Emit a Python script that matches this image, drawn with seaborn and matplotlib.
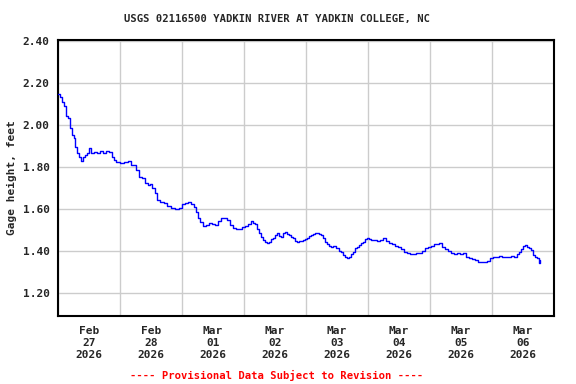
import pandas as pd
import numpy as np
import seaborn as sns
import matplotlib.pyplot as plt
import matplotlib.dates as mdates

# hours since 2026-02-27 00:00 and gage height (feet)
hours = [0.0, 0.8, 1.5, 2.3, 3.1, 3.9, 4.6, 5.4, 6.2, 6.7, 7.4, 8.1, 8.9, 9.7, 10.5, 11.2,
         12.0, 12.8, 13.9, 15.1, 16.3, 17.4, 18.6, 19.7, 20.9, 21.7, 22.5, 24.0, 25.5, 27.1,
         28.3, 29.4, 30.2, 31.4, 32.5, 33.7, 34.8, 35.6, 36.4, 37.5, 38.3, 39.5, 41.0, 42.2,
         43.7, 45.3, 46.8, 48.0, 49.2, 50.3, 51.5, 52.6, 53.4, 54.2, 55.0, 56.1, 57.3, 58.5,
         59.6, 60.8, 61.9, 63.1, 64.3, 65.4, 66.6, 67.7, 68.9, 70.1, 71.2, 72.4, 73.5, 74.7,
         75.5, 76.3, 77.0, 77.8, 78.6, 79.4, 80.1, 80.9, 81.7, 82.5, 83.2, 84.0, 84.8, 85.5,
         86.3, 87.1, 87.9, 88.6, 89.4, 90.2, 91.0, 91.7, 92.5, 93.3, 94.1, 94.8, 95.6, 96.4,
         97.2, 97.9, 98.7, 99.5, 100.3, 101.0, 101.8, 102.6, 103.4, 104.1, 104.9, 105.7, 106.5,
         107.6, 108.8, 109.5, 110.3, 111.1, 111.9, 112.6, 113.4, 114.2, 115.0, 115.7, 116.5,
         117.3, 118.1, 118.8, 119.6, 120.4, 121.2, 122.3, 123.5, 124.6, 125.8, 127.0, 128.1,
         129.3, 130.5, 131.6, 132.8, 133.9, 135.1, 136.3, 137.4, 138.6, 139.7, 140.9, 142.1,
         143.2, 144.4, 145.5, 146.7, 147.5, 148.6, 149.8, 151.0, 152.1, 153.3, 154.5, 155.6,
         156.8, 157.9, 159.1, 160.3, 161.4, 162.6, 163.7, 164.9, 166.1, 167.2, 168.4, 169.5,
         170.7, 171.9, 173.0, 174.2, 175.4, 176.5, 177.7, 178.5, 179.2, 180.0, 180.8, 181.5,
         182.3, 183.1, 183.9, 184.6, 185.4, 186.2, 186.6]
gage = [2.146, 2.135, 2.108, 2.092, 2.044, 2.032, 1.984, 1.952, 1.937, 1.897, 1.865, 1.849,
        1.829, 1.849, 1.857, 1.865, 1.889, 1.868, 1.873, 1.866, 1.878, 1.868, 1.876, 1.870,
        1.849, 1.833, 1.822, 1.819, 1.822, 1.827, 1.810, 1.808, 1.786, 1.752, 1.748, 1.724,
        1.714, 1.718, 1.699, 1.675, 1.643, 1.632, 1.627, 1.614, 1.603, 1.599, 1.603, 1.624,
        1.630, 1.632, 1.624, 1.608, 1.587, 1.556, 1.540, 1.519, 1.524, 1.535, 1.529, 1.524,
        1.544, 1.556, 1.556, 1.548, 1.524, 1.508, 1.505, 1.506, 1.513, 1.519, 1.528, 1.544,
        1.535, 1.529, 1.503, 1.484, 1.465, 1.452, 1.444, 1.437, 1.444, 1.456, 1.460, 1.476,
        1.484, 1.471, 1.465, 1.484, 1.492, 1.479, 1.475, 1.468, 1.460, 1.449, 1.444, 1.449,
        1.446, 1.452, 1.456, 1.460, 1.471, 1.476, 1.481, 1.484, 1.487, 1.481, 1.476, 1.460,
        1.444, 1.433, 1.424, 1.421, 1.424, 1.413, 1.401, 1.397, 1.381, 1.373, 1.365, 1.370,
        1.386, 1.397, 1.413, 1.421, 1.429, 1.437, 1.444, 1.456, 1.460, 1.456, 1.452, 1.452,
        1.448, 1.452, 1.460, 1.449, 1.440, 1.433, 1.424, 1.418, 1.408, 1.397, 1.389, 1.386,
        1.384, 1.389, 1.392, 1.401, 1.413, 1.421, 1.424, 1.433, 1.433, 1.437, 1.418, 1.408,
        1.401, 1.389, 1.386, 1.389, 1.386, 1.389, 1.373, 1.365, 1.360, 1.357, 1.349, 1.349,
        1.349, 1.354, 1.365, 1.370, 1.373, 1.376, 1.370, 1.373, 1.370, 1.376, 1.373, 1.386,
        1.397, 1.408, 1.424, 1.429, 1.421, 1.413, 1.405, 1.381, 1.373, 1.365, 1.344, 1.357]
y_ticks = [1.20, 1.40, 1.60, 1.80, 2.00, 2.20, 2.40]

start = pd.Timestamp('2026-02-27')
df = pd.DataFrame({'time': start + pd.to_timedelta(hours, unit='h'), 'gage': gage})

sns.set_style('white')
plt.rcParams['font.family'] = ['DejaVu Sans Mono']
plt.rcParams['font.weight'] = 'bold'

fig = plt.figure(figsize=(5.76, 3.84), dpi=100)
ax = fig.add_axes([58 / 576, 1 - 316 / 384, 496 / 576, 276 / 384])

sns.lineplot(data=df, x='time', y='gage', ax=ax, color='#0000ff', lw=1,
             drawstyle='steps-post', zorder=3)

ax.set_xlim(start, start + pd.Timedelta(days=8))
ax.set_ylim(1.09, 2.405)
ax.set_yticks(y_ticks)
ax.set_yticklabels([f'{v:.2f}' for v in y_ticks], fontsize=8, fontweight='bold')

# day boundaries carry the grid, labels sit at noon
ax.xaxis.set_major_locator(mdates.DayLocator())
ax.xaxis.set_major_formatter(plt.NullFormatter())
ax.xaxis.set_minor_locator(mdates.HourLocator(byhour=[12]))
ax.xaxis.set_minor_formatter(mdates.DateFormatter('%b\n%d\n%Y'))
ax.tick_params(axis='x', which='both', length=0, pad=7)
ax.tick_params(axis='y', length=0, pad=6)
for lab in ax.get_xticklabels(minor=True):
    lab.set_fontsize(8)
    lab.set_fontweight('bold')
    lab.set_linespacing(1.25)

ax.grid(True, which='major', color='#cccccc', lw=1)
ax.set_axisbelow(True)
for s in ax.spines.values():
    s.set_color('black')
    s.set_linewidth(1.5)

ax.set_xlabel('')
ax.set_ylabel('Gage height, feet', fontsize=8, fontweight='bold', labelpad=4)

fig.text(277.5 / 576, 1 - 19 / 384,
         'USGS 02116500 YADKIN RIVER AT YADKIN COLLEGE, NC',
         ha='center', va='center', fontsize=7.6, fontweight='bold')
fig.text(277 / 576, 1 - 375 / 384, '---- Provisional Data Subject to Revision ----',
         ha='center', va='center', fontsize=7.6, fontweight='bold', color='red')

fig.savefig('out.png', dpi=100)
